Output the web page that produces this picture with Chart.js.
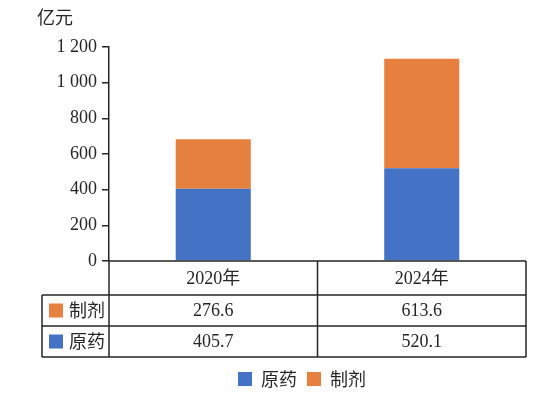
<!DOCTYPE html>
<html>
<head>
<meta charset="utf-8">
<script src="https://cdn.jsdelivr.net/npm/chart.js@4"></script>
<style>
html, body { margin: 0; background: #fff; }
#wrap { width: 560px; height: 398px; }
</style>
</head>
<body>
<div id="wrap"><canvas id="chart"></canvas></div>
<script>
var years = ['2020年', '2024年'];
var series_names = ['原药', '制剂'];
var yuanyao = [405.7, 520.1];
var zhiji = [276.6, 613.6];
var y_ticks = [0, 200, 400, 600, 800, 1000, 1200];
var unit_label = '亿元';

var colors = ['#4472C4', '#E5803F'];
var line_color = '#262626';
var num_font = '"Liberation Serif", "Noto Sans CJK SC", serif';
var cjk_font = '"Noto Sans CJK SC", sans-serif';

function format_tick(v)
{
    var s = String(v);
    if (v >= 1000)
        s = s.slice(0, s.length - 3) + ' ' + s.slice(-3);
    return s;
}

// table under the plot, plus the unit label in the corner
var table_plugin = {
    id: 'data_table',
    afterDraw: function(chart)
    {
        var ctx = chart.ctx;
        var area = chart.chartArea;
        var xs = chart.scales.x;
        var n = years.length;
        var cat_w = (area.right - area.left) / n;

        var y0 = area.bottom;
        var y1 = y0 + 34;
        var y2 = y1 + 31;
        var y3 = y2 + 31;
        var tl = 42;

        var rows = [
            { name: series_names[1], values: zhiji, color: colors[1] },
            { name: series_names[0], values: yuanyao, color: colors[0] }
        ];

        ctx.save();
        ctx.strokeStyle = line_color;
        ctx.lineWidth = 1.5;
        ctx.beginPath();
        ctx.moveTo(area.left, y0); ctx.lineTo(area.right, y0);
        [y1, y2, y3].forEach(function(y) {
            ctx.moveTo(tl, y); ctx.lineTo(area.right, y);
        });
        ctx.moveTo(tl, y1); ctx.lineTo(tl, y3);
        for (var i = 0; i <= n; i++)
        {
            var bx = area.left + i * cat_w;
            ctx.moveTo(bx, y0); ctx.lineTo(bx, y3);
        }
        ctx.stroke();

        ctx.fillStyle = line_color;
        ctx.textAlign = 'center';
        ctx.textBaseline = 'middle';
        ctx.font = '18px ' + num_font;
        years.forEach(function(label, i) {
            ctx.fillText(label, xs.getPixelForValue(i), (y0 + y1) / 2 + 1);
        });

        rows.forEach(function(row, r) {
            var top = y1 + r * 31;
            var mid = top + 15.5;
            ctx.fillStyle = row.color;
            ctx.fillRect(49, mid - 7, 14, 14);
            ctx.fillStyle = line_color;
            ctx.textAlign = 'left';
            ctx.font = '18px ' + cjk_font;
            ctx.fillText(row.name, 69, mid);
            ctx.textAlign = 'center';
            ctx.font = '18px ' + num_font;
            row.values.forEach(function(v, i) {
                ctx.fillText(v.toFixed(1), xs.getPixelForValue(i), mid + 1);
            });
        });

        ctx.font = '18px ' + cjk_font;
        ctx.textAlign = 'center';
        ctx.fillText(unit_label, 55, 17);
        ctx.restore();
    }
};

var chart = new Chart(document.getElementById('chart'), {
    type: 'bar',
    data: {
        labels: years,
        datasets: [
            { label: series_names[0], data: yuanyao, backgroundColor: colors[0], borderWidth: 0 },
            { label: series_names[1], data: zhiji, backgroundColor: colors[1], borderWidth: 0 }
        ]
    },
    options: {
        responsive: true,
        maintainAspectRatio: false,
        animation: false,
        layout: { padding: { top: 47, left: 44, right: 0, bottom: 0 } },
        datasets: { bar: { barPercentage: 0.36, categoryPercentage: 1 } },
        scales: {
            x: {
                stacked: true,
                grid: { display: false },
                border: { display: false },
                ticks: { display: false },
                afterFit: function(s) { s.height = 99; }
            },
            y: {
                stacked: true,
                min: 0,
                max: 1200,
                afterBuildTicks: function(s) {
                    s.ticks = y_ticks.map(function(v) { return { value: v }; });
                },
                afterFit: function(s) { s.width = 65; },
                grid: {
                    drawOnChartArea: false,
                    drawTicks: true,
                    tickLength: 7,
                    color: line_color,
                    lineWidth: 1.5
                },
                border: { display: true, color: line_color, width: 1.5 },
                ticks: {
                    padding: 5,
                    color: line_color,
                    font: { family: num_font, size: 18 },
                    callback: function(v) { return format_tick(v); }
                }
            },
            // empty right axis, only keeps the plot off the right edge
            spacer: {
                type: 'linear',
                position: 'right',
                grid: { display: false },
                border: { display: false },
                ticks: { display: false },
                afterFit: function(s) { s.width = 34; }
            }
        },
        plugins: {
            tooltip: { enabled: false },
            legend: {
                position: 'bottom',
                labels: {
                    boxWidth: 14,
                    boxHeight: 14,
                    padding: 10,
                    color: line_color,
                    font: { family: cjk_font, size: 18 }
                }
            }
        }
    },
    plugins: [table_plugin]
});
</script>
</body>
</html>
